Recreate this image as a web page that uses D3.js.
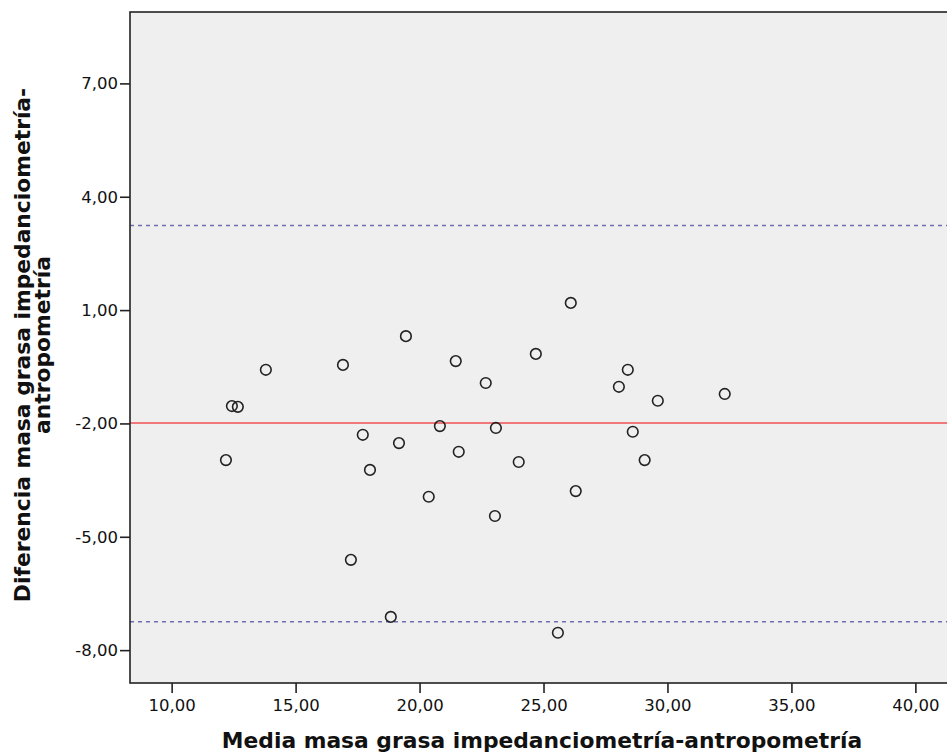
<!DOCTYPE html>
<html>
<head>
<meta charset="utf-8">
<script src="https://cdn.jsdelivr.net/npm/d3@7"></script>
<style>
	body { margin: 0; background: #fff; }
	text { font-family: 'DejaVu Sans', sans-serif; fill: #111; }
</style>
</head>
<body>
<script>
// media de ambos metodos (eje x) y diferencia (eje y), un punto por sujeto
var medias = [12.19, 12.43, 12.67, 13.80, 16.91, 17.23, 17.71, 18.00, 18.84, 19.17,
	19.45, 20.37, 20.82, 21.46, 21.58, 22.67, 23.04, 23.08, 24.00, 24.69,
	26.10, 26.30, 25.58, 28.04, 28.40, 28.60, 29.08, 29.61, 32.31];
var diferencias = [-2.97, -1.54, -1.56, -0.58, -0.45, -5.61, -2.30, -3.23, -7.12, -2.52,
	0.31, -3.94, -2.07, -0.35, -2.75, -0.93, -4.45, -2.12, -3.02, -0.16,
	1.19, -3.79, -7.54, -1.03, -0.58, -2.22, -2.97, -1.40, -1.22];

// media de las diferencias y limites de acuerdo
var mediaDif = -1.99,
	limiteSup = 3.24,
	limiteInf = -7.25;

var xTicks = [10, 15, 20, 25, 30, 35, 40];
var yTicks = [-8, -5, -2, 1, 4, 7];

var xTitulo = 'Media masa grasa impedanciometría-antropometría';
var yTitulo = ['Diferencia masa grasa impedanciometría-', 'antropometría'];

var width = 947,
	height = 753;

var plot = {left: 130, top: 12, right: 960, bottom: 683};

var locale = d3.formatLocale({decimal: ',', thousands: '.', grouping: [3], currency: ['', ''], minus: '-'});
var fmt = locale.format('.2f');

var x = d3.scaleLinear()
	.domain([8.32, 41.8])
	.range([plot.left, plot.right]);

var y = d3.scaleLinear()
	.domain([-8.87, 8.89])
	.range([plot.bottom, plot.top]);

var svg = d3.select('body').append('svg')
	.attr('width', width)
	.attr('height', height);

// fondo del grafico
svg.append('rect')
	.attr('x', plot.left)
	.attr('y', plot.top)
	.attr('width', plot.right - plot.left)
	.attr('height', plot.bottom - plot.top)
	.attr('fill', '#efefef');

// lineas de referencia
svg.append('line')
	.attr('x1', plot.left).attr('x2', plot.right)
	.attr('y1', y(mediaDif)).attr('y2', y(mediaDif))
	.attr('stroke', '#f07878')
	.attr('stroke-width', 2);

[limiteSup, limiteInf].forEach(function(v) {
	svg.append('line')
		.attr('x1', plot.left).attr('x2', plot.right)
		.attr('y1', y(v)).attr('y2', y(v))
		.attr('stroke', '#6f6fae')
		.attr('stroke-width', 1.5)
		.attr('stroke-dasharray', '4,4');
});

// puntos
svg.append('g').selectAll('circle')
	.data(medias)
	.enter().append('circle')
	.attr('cx', function(d) { return x(d); })
	.attr('cy', function(d, i) { return y(diferencias[i]); })
	.attr('r', 5.3)
	.attr('fill', 'none')
	.attr('stroke', '#222')
	.attr('stroke-width', 1.6);

// marco
svg.append('rect')
	.attr('x', plot.left)
	.attr('y', plot.top)
	.attr('width', plot.right - plot.left)
	.attr('height', plot.bottom - plot.top)
	.attr('fill', 'none')
	.attr('stroke', '#222')
	.attr('stroke-width', 1.6);

// ejes
var xAxis = d3.axisBottom(x)
	.tickValues(xTicks)
	.tickSize(10)
	.tickPadding(6)
	.tickFormat(fmt);

var yAxis = d3.axisLeft(y)
	.tickValues(yTicks)
	.tickSize(10)
	.tickPadding(2)
	.tickFormat(fmt);

var gx = svg.append('g')
	.attr('transform', 'translate(0,' + plot.bottom + ')')
	.call(xAxis);

var gy = svg.append('g')
	.attr('transform', 'translate(' + plot.left + ',0)')
	.call(yAxis);

[gx, gy].forEach(function(g) {
	g.select('.domain').remove();
	g.selectAll('.tick line')
		.attr('stroke', '#222')
		.attr('stroke-width', 1.6);
	g.selectAll('.tick text')
		.attr('fill', '#111')
		.style('font-size', '16.5px')
		.style('font-family', "'DejaVu Sans', sans-serif");
});

// titulos de los ejes
svg.append('text')
	.attr('x', 542)
	.attr('y', 748)
	.attr('text-anchor', 'middle')
	.style('font-size', '21.8px')
	.style('font-weight', 'bold')
	.text(xTitulo);

var yt = svg.append('text')
	.attr('transform', 'translate(30,345) rotate(-90)')
	.attr('text-anchor', 'middle')
	.style('font-size', '21.8px')
	.style('font-weight', 'bold');

yt.selectAll('tspan')
	.data(yTitulo)
	.enter().append('tspan')
	.attr('x', 0)
	.attr('dy', function(d, i) { return i === 0 ? 0 : 20; })
	.text(function(d) { return d; });
</script>
</body>
</html>
